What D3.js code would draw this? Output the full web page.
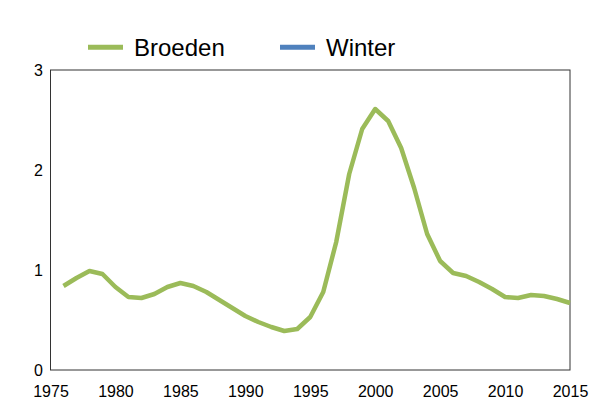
<!DOCTYPE html>
<html><head><meta charset="utf-8">
<script src="https://cdn.jsdelivr.net/npm/d3@7"></script>
<style>body{margin:0;background:#fff}svg{display:block}text{font-family:"Liberation Sans",Arial,sans-serif}</style>
</head><body>
<svg id="c" width="600" height="400"></svg>
<script>
const years = d3.range(1976, 2016);
const broeden = [0.84,0.92,0.99,0.96,0.83,0.73,0.72,0.76,0.83,0.87,0.84,0.78,0.70,0.62,0.54,0.48,0.43,0.39,0.41,0.53,0.78,1.28,1.96,2.41,2.61,2.49,2.22,1.82,1.36,1.09,0.97,0.94,0.88,0.81,0.73,0.72,0.75,0.74,0.71,0.67];
const winter = [];
const seriesNames = ["Broeden","Winter"];
const seriesColors = ["#9BBB59","#4F81BD"];
const xTicks = [1975,1980,1985,1990,1995,2000,2005,2010,2015];
const yTicks = [0,1,2,3];

const svg = d3.select("#c");
const m = {l:50.5, r:570, t:70, b:370};
const x = d3.scaleLinear().domain([1975,2015]).range([m.l,m.r]);
const y = d3.scaleLinear().domain([0,3]).range([m.b,m.t]);

svg.append("rect").attr("x",m.l).attr("y",m.t).attr("width",m.r-m.l).attr("height",m.b-m.t)
  .attr("fill","none").attr("stroke","#333").attr("stroke-width",1);

const xa = svg.append("g").attr("transform",`translate(0,${m.b})`)
  .call(d3.axisBottom(x).tickValues(xTicks).tickFormat(d3.format("d")).tickSize(0).tickPadding(0));
xa.select(".domain").remove();
xa.selectAll("text").attr("font-size",16).attr("fill","#000").attr("dy",null).attr("y",27)
  .attr("font-family","Liberation Sans, Arial, sans-serif");

const ya = svg.append("g").attr("transform",`translate(${m.l},0)`)
  .call(d3.axisLeft(y).tickValues(yTicks).tickFormat(d3.format("d")).tickSize(0).tickPadding(7.5));
ya.select(".domain").remove();
ya.selectAll("text").attr("font-size",16).attr("fill","#000").attr("font-family","Liberation Sans, Arial, sans-serif");

const line = d3.line().x((d,i)=>x(years[i])).y(d=>y(d));
svg.append("path").datum(broeden).attr("d",line).attr("fill","none")
  .attr("stroke",seriesColors[0]).attr("stroke-width",4.5).attr("stroke-linejoin","round");
if (winter.length) svg.append("path").datum(winter).attr("d",line).attr("fill","none")
  .attr("stroke",seriesColors[1]).attr("stroke-width",4.5);

const legX = [88, 280];
seriesNames.forEach((n,i)=>{
  svg.append("line").attr("x1",legX[i]).attr("x2",legX[i]+35).attr("y1",47.3).attr("y2",47.3)
    .attr("stroke",seriesColors[i]).attr("stroke-width",5);
  svg.append("text").attr("x",legX[i]+46).attr("y",55.7).attr("font-size",24).attr("fill","#000").text(n);
});
</script>
</body></html>
